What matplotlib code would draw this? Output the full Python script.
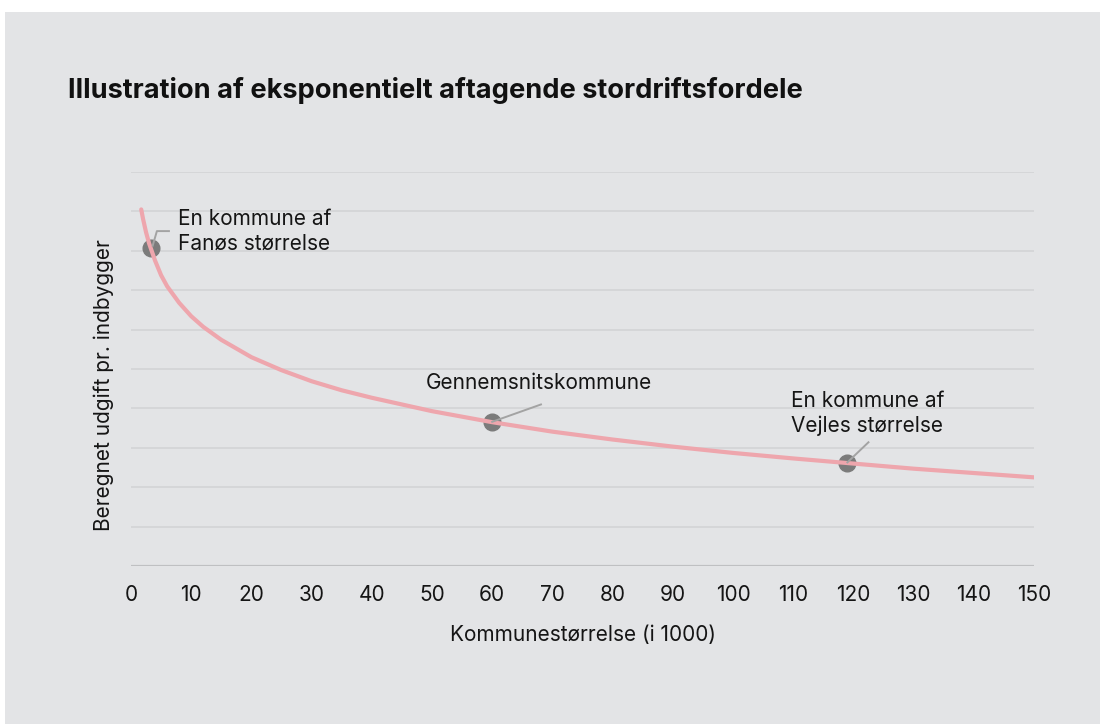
import matplotlib
matplotlib.use("Agg")
import matplotlib.pyplot as plt
from matplotlib.patches import Rectangle

plt.rcParams['font.family'] = ['Inter', 'DejaVu Sans']

# Curve (municipality size in 1000, computed cost per inhabitant)
size = [1.7, 2, 2.5, 3, 4, 5, 6, 8, 10, 12, 15, 20, 25, 30, 35, 40, 50,
        60, 70, 80, 90, 100, 110, 120, 130, 140, 150]
cost = [9.05, 8.81, 8.47, 8.19, 7.75, 7.38, 7.10, 6.68, 6.34, 6.07, 5.74,
        5.30, 4.97, 4.69, 4.46, 4.27, 3.93, 3.65, 3.41, 3.21, 3.03, 2.87,
        2.73, 2.60, 2.47, 2.36, 2.25]

# Highlighted municipalities
point_x = [3.3, 60, 119]
point_y = [8.07, 3.66, 2.61]
point_labels = ["En kommune af\nFanøs størrelse", "Gennemsnitskommune",
                "En kommune af\nVejles størrelse"]

xticks = list(range(0, 151, 10))

bg = "#e3e4e6"
txt = "#151515"
fig = plt.figure(figsize=(11, 7.24), dpi=100, facecolor="white")
fig.patches.append(Rectangle((5 / 1100, 0), 1, 712 / 724, transform=fig.transFigure,
                             facecolor=bg, edgecolor="none", zorder=-10))

ax = fig.add_axes([131 / 1100, 158 / 724, 903 / 1100, 394 / 724])
ax.patch.set_alpha(0)

ax.set_xlim(0, 150)
ax.set_ylim(0, 10)
for s in ax.spines.values():
    s.set_visible(False)
for yv in range(1, 11):
    ax.axhline(yv, color="#d4d5d7", lw=1.3, zorder=1)
ax.axhline(0, color="#bfc0c2", lw=1.6, zorder=1)

ax.plot(size, cost, color="#eea6ad", lw=3, solid_capstyle="round", zorder=3)
ax.plot(point_x, point_y, "o", color="#7b7b7b", markersize=12, zorder=2)

lead = dict(color="#a3a3a3", lw=1.4, zorder=4)
# Fanø: small elbow leader
ax.plot([3.6, 4.3, 6.3], [8.13, 8.5, 8.5], **lead)
ax.plot([60, 68.1], [3.66, 4.1], **lead)
ax.plot([119, 122.5], [2.63, 3.14], **lead)

ax.text(7.8, 8.5, point_labels[0], fontsize=15, ha="left", va="center",
        linespacing=1.3, color=txt)
ax.text(49, 4.65, point_labels[1], fontsize=15, ha="left", va="center",
        color=txt)
ax.text(109.7, 3.87, point_labels[2], fontsize=15, ha="left", va="center",
        linespacing=1.3, color=txt)

ax.set_xticks(xticks)
ax.set_xticklabels([str(t) for t in xticks], fontsize=15, color=txt)
ax.set_yticks([])
ax.tick_params(axis="x", length=0, pad=14)
ax.set_xlabel("Kommunestørrelse (i 1000)", fontsize=15, color=txt, labelpad=14)
ax.set_ylabel("Beregnet udgift pr. indbygger", fontsize=15, color=txt)
ax.yaxis.set_label_coords(-0.019, 0.459)

fig.text(68 / 1100, 1 - 90 / 724, "Illustration af eksponentielt aftagende stordriftsfordele",
         fontsize=19.6, fontweight="bold", ha="left", va="center", color="#111111")

fig.savefig("out.png", dpi=100, facecolor=fig.get_facecolor())
